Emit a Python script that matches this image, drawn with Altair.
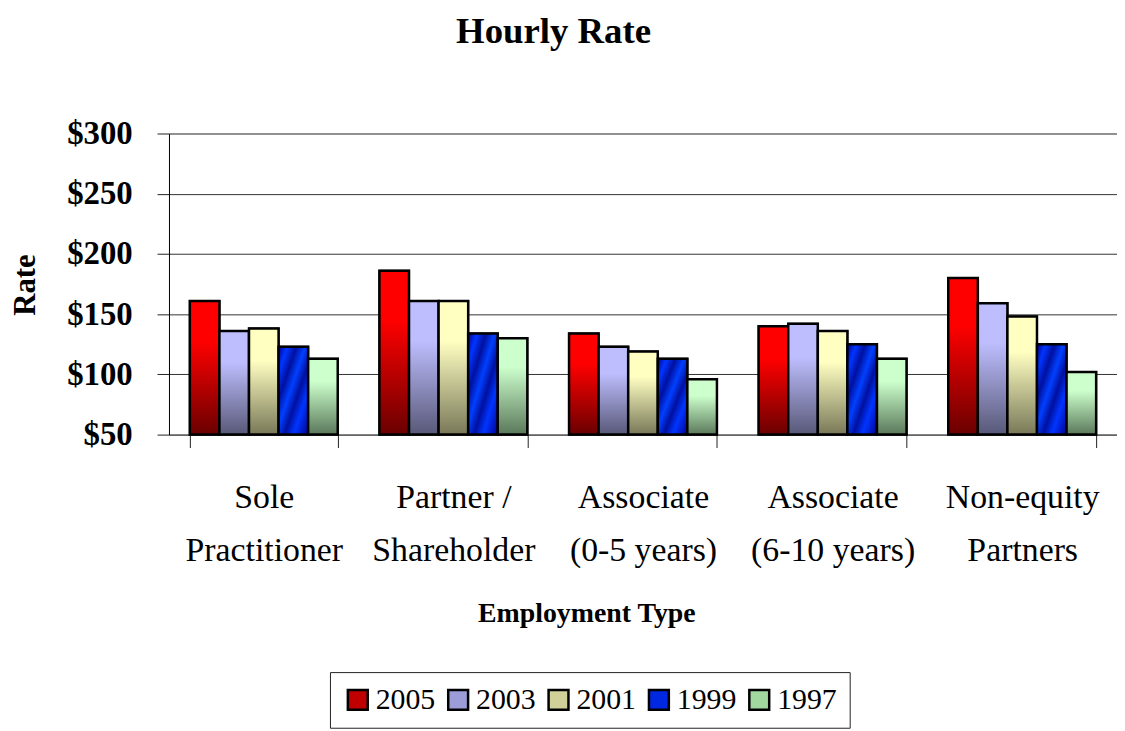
import altair as alt
import pandas as pd

categories = ["Sole|Practitioner", "Partner /|Shareholder", "Associate|(0-5 years)",
              "Associate|(6-10 years)", "Non-equity|Partners"]
years = ["2005", "2003", "2001", "1999", "1997"]
rate_2005 = [161, 186, 134, 140, 180]
rate_2003 = [136, 161, 123, 142, 159]
rate_2001 = [138, 161, 119, 136, 148]
rate_1999 = [123, 134, 113, 125, 125]
rate_1997 = [113, 130, 96, 113, 102]
y_ticks = [50, 100, 150, 200, 250, 300]

series = {"2005": rate_2005, "2003": rate_2003, "2001": rate_2001,
          "1999": rate_1999, "1997": rate_1997}
rows = []
for yr in years:
    for cat, v in zip(categories, series[yr]):
        rows.append({"category": cat, "year": yr, "value": v})
df = pd.DataFrame(rows)

FONT = "Liberation Serif, Times New Roman, serif"
legend_colors = ["#C00000", "#9C9CD8", "#D0D098", "#0028E0", "#A0D8A0"]


def vgrad(top, bottom):
    return alt.Gradient(gradient="linear", x1=0, y1=0, x2=0, y2=1,
                        stops=[alt.GradientStop(offset=0, color=top),
                               alt.GradientStop(offset=0.3, color=top),
                               alt.GradientStop(offset=1, color=bottom)])


blue_grad = alt.Gradient(
    gradient="linear", x1=0, y1=0, x2=1, y2=1,
    stops=[alt.GradientStop(offset=0.0, color="#000090"),
           alt.GradientStop(offset=0.15, color="#0035FF"),
           alt.GradientStop(offset=0.3, color="#0010A0"),
           alt.GradientStop(offset=0.45, color="#0040FF"),
           alt.GradientStop(offset=0.6, color="#0010A0"),
           alt.GradientStop(offset=0.75, color="#0035FF"),
           alt.GradientStop(offset=1.0, color="#000090")])

fills = {
    "2005": vgrad("#FF0000", "#6A0000"),
    "2003": vgrad("#BEBEFF", "#585878"),
    "2001": vgrad("#FFFFC2", "#787858"),
    "1999": blue_grad,
    "1997": vgrad("#CCFFCC", "#5A785A"),
}

x_enc = alt.X("category:N", sort=categories,
              scale=alt.Scale(paddingInner=0.22, paddingOuter=0.11),
              axis=alt.Axis(title="Employment Type",
                            labelExpr="datum.label ? split(datum.label, '|') : ''",
                            labelFont=FONT, labelFontSize=34, labelLineHeight=54,
                            labelColor="black", labelAngle=0, labelPadding=33,
                            tickBand="extent", tickSize=13, tickColor="#222",
                            domainColor="#555", titleFont=FONT, titleFontSize=28,
                            titleFontWeight="bold", titleColor="black",
                            titleX=420, titleY=188, titleBaseline="alphabetic",
                            titleAlign="center"))
xo_enc = alt.XOffset("year:N", sort=years,
                     scale=alt.Scale(domain=years, paddingInner=0, paddingOuter=0))
y_enc = alt.Y("value:Q", scale=alt.Scale(domain=[50, 300], nice=False, zero=False),
              axis=alt.Axis(title="Rate", values=y_ticks, labelExpr="'$' + datum.value",
                            labelFont=FONT, labelFontSize=33, labelFontWeight="bold",
                            labelColor="black", labelPadding=25, tickSize=12,
                            tickColor="#222", domainColor="black", gridColor="#333",
                            gridWidth=1, titleFont=FONT, titleFontSize=31,
                            titleFontWeight="bold", titleColor="black",
                            titleAngle=-90, titleX=-135, titleY=152,
                            titleBaseline="alphabetic", titleAlign="center"))

base = alt.Chart(df)

legend_layer = base.mark_bar(stroke="black", strokeWidth=2).encode(
    x=x_enc, xOffset=xo_enc, y=y_enc, y2=alt.datum(50),
    color=alt.Color("year:N", sort=years,
                    scale=alt.Scale(domain=years, range=legend_colors),
                    legend=alt.Legend(title=None, orient="none", direction="horizontal",
                                      legendX=162, legendY=542, padding=13,
                                      strokeColor="#222", fillColor="white",
                                      symbolType="square", symbolSize=400,
                                      symbolStrokeColor="black", symbolStrokeWidth=2.5,
                                      symbolOpacity=1,
                                      labelFont=FONT, labelFontSize=30,
                                      labelColor="black", labelOffset=3,
                                      columnPadding=8)),
)

layers = [legend_layer]
for yr in years:
    layers.append(
        base.transform_filter(alt.datum.year == yr)
        .mark_bar(fill=fills[yr], stroke="black", strokeWidth=2.5)
        .encode(x=x_enc, xOffset=xo_enc, y=y_enc, y2=alt.datum(50))
    )

chart = alt.layer(*layers).properties(
    width=954, height=303,
    title=alt.Title("Hourly Rate", font=FONT, fontSize=37, fontWeight="bold",
                    color="black", anchor="middle", baseline="alphabetic",
                    offset=38, dx=-90),
    autosize=alt.AutoSizeParams(type="none"),
    padding={"left": 162, "top": 124, "right": 0, "bottom": 300},
).configure_view(stroke=None).configure(background="white")

chart.save("out.html", embed_options={"renderer": "svg", "actions": False})
